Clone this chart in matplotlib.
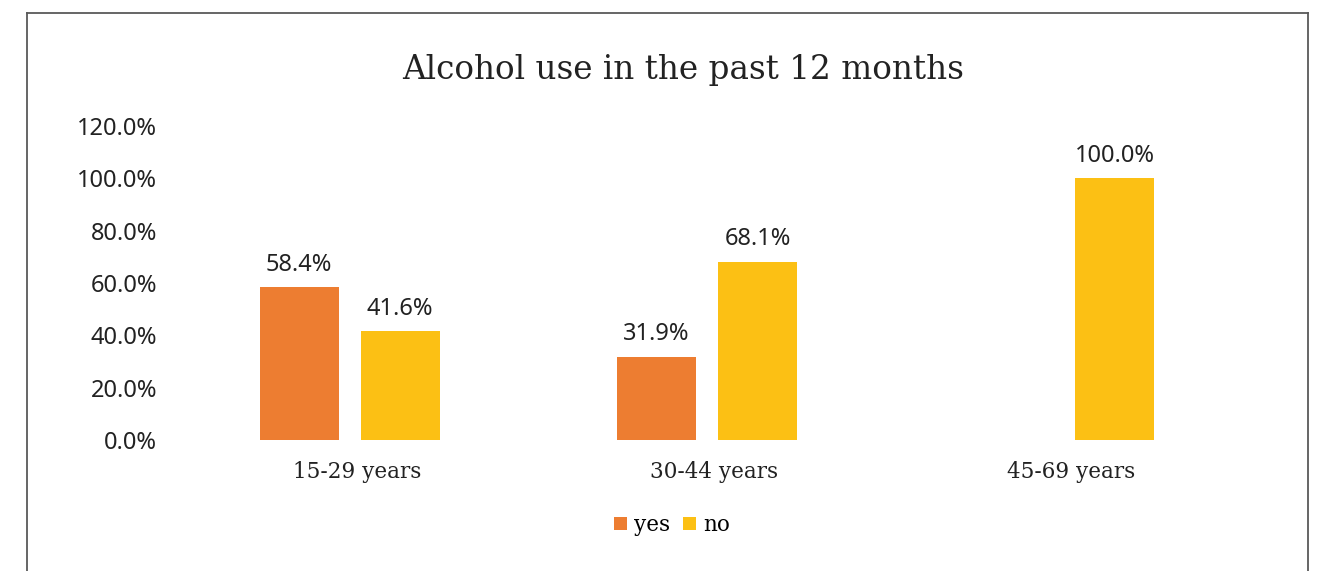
import numpy as np
import matplotlib.pyplot as plt
from matplotlib.lines import Line2D

# survey data, percent of respondents per age group
groups = ['15-29 years', '30-44 years', '45-69 years']
yes_pct = [58.4, 31.9, np.nan]
no_pct = [41.6, 68.1, 100.0]
yticks = [0, 20, 40, 60, 80, 100, 120]

c_yes = '#ED7D31'
c_no = '#FCC014'
serif = 'DejaVu Serif'
sans = 'Noto Sans'

fig = plt.figure(figsize=(13.22, 5.71), dpi=100)
ax = fig.add_axes([171/1322, 131/571, 1072/1322, 314/571])

x = np.arange(len(groups))
w = 0.221
off = 0.1413

def label_bars(bars, vals):
    for b, v in zip(bars, vals):
        if np.isnan(v):
            continue
        ax.text(b.get_x() + b.get_width()/2, v + 6.3, f'{v:.1f}%',
                ha='center', va='baseline', fontsize=17, family=sans,
                fontweight='light', color='#222222')

b1 = ax.bar(x - off, yes_pct, w, color=c_yes, label='yes')
b2 = ax.bar(x + off, no_pct, w, color=c_no, label='no')
label_bars(b1, yes_pct)
label_bars(b2, no_pct)

ax.set_xlim(-0.5, 2.5)
ax.set_ylim(0, 120)
ax.set_yticks(yticks)
ax.set_yticklabels([f'{t:.1f}%' for t in yticks], family=sans, fontsize=17,
                   fontweight='light', color='#222222')
ax.set_xticks(x + 0.02)
ax.set_xticklabels(groups, family=serif, fontsize=15.5, color='#222222')
ax.tick_params(length=0)
ax.tick_params(axis='y', pad=10)
ax.tick_params(axis='x', pad=15)
for s in ax.spines.values():
    s.set_visible(False)

fig.text(683/1322, 1 - 70/571, 'Alcohol use in the past 12 months', ha='center', va='center',
         family=serif, fontsize=23.5, color='#222222')

fig.legend(handles=[b1, b2], labels=['yes', 'no'], loc='center', bbox_to_anchor=(672/1322, 1 - 525/571),
           ncol=2, frameon=False, prop={'family': serif, 'size': 15.5}, handlelength=0.6, handleheight=0.6,
           handletextpad=0.35, columnspacing=0.6)

# chart border (bottom edge runs off the image)
frame = dict(color='#595959', lw=1.3, transform=fig.transFigure)
fig.add_artist(Line2D([26.5/1322, 26.5/1322], [0, 1 - 12.5/571], **frame))
fig.add_artist(Line2D([26.5/1322, 1308/1322], [1 - 12.5/571, 1 - 12.5/571], **frame))
fig.add_artist(Line2D([1308/1322, 1308/1322], [0, 1 - 12.5/571], **frame))

fig.savefig('out.png', dpi=100)
